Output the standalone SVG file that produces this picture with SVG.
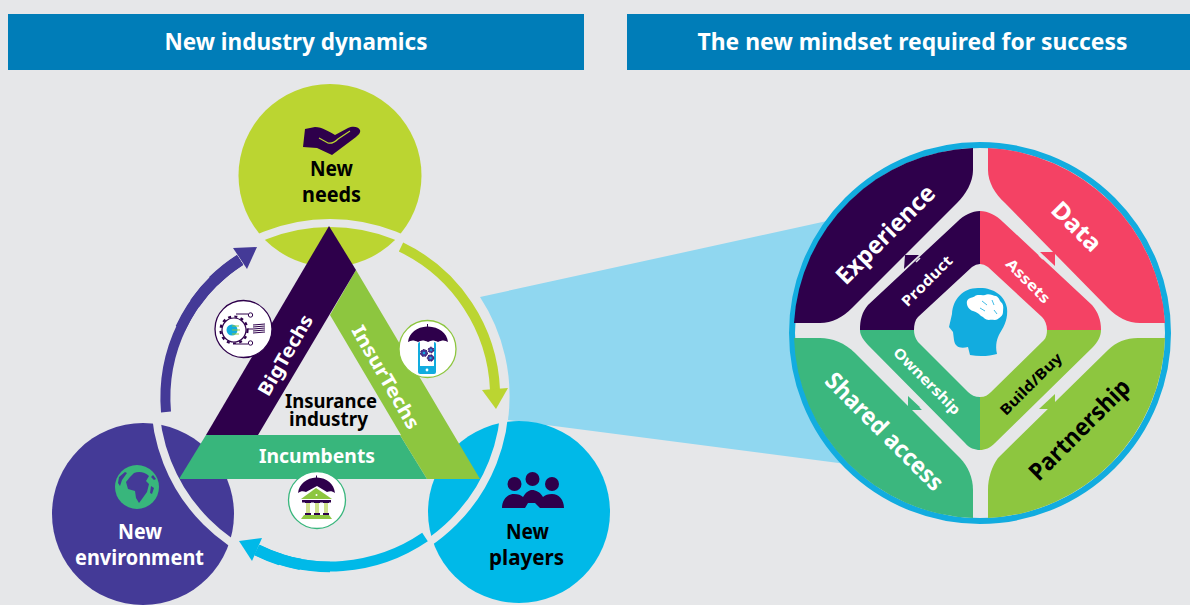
<svg xmlns="http://www.w3.org/2000/svg" width="1190" height="605" viewBox="0 0 1190 605">
<style>
text{font-family:"Noto Sans","Open Sans","Liberation Sans",sans-serif;font-weight:700;text-anchor:middle}
.w{fill:#fff}.k{fill:#000}
.hd{fill:#fff;font-size:23px}.lb{font-size:21px}.ind{font-size:20px}.band{font-size:19px;fill:#fff}
.big{font-size:24px}.sm{font-size:14.500px}
.cut{stroke:#E6E7E9;stroke-width:1.600;fill:none}
.dk{fill:#2E004B}
.ic{fill:#fff;stroke-width:1.3}
.arc{fill:none;stroke-width:10}
</style>
<rect width="1190" height="605" fill="#E6E7E9"/>
<g id="header-left"><rect x="8" y="14" width="576" height="56" fill="#007DB8"/><text class="hd" x="296" y="50" textLength="263" lengthAdjust="spacingAndGlyphs">New industry dynamics</text></g>
<g id="header-right"><rect x="627" y="14" width="563" height="56" fill="#007DB8"/><text class="hd" x="912.500" y="50" textLength="430" lengthAdjust="spacingAndGlyphs">The new mindset required for success</text></g>
<path id="zoom-wedge" d="M480 297L900 205V471L508 420A181 181 0 0 0 480 297Z" fill="#90D7F0"/>

<g id="node-new-needs">
<circle cx="330" cy="175.500" r="91.500" fill="#BBD531"/>
<path class="dk" d="M305 129L315 127C322 127 330 132 335 135L348 128C352 126 358 126 360 130C361 133 358 135 356 137L332 155L317 148L303 147Z"/>
<path d="M319 138L328 143C332 144 335 142 338 139L350 131" fill="none" stroke="#BBD531" stroke-width="1.200"/>
<text class="lb k" x="331.500" y="176" textLength="43" lengthAdjust="spacingAndGlyphs">New</text>
<text class="lb k" x="331.500" y="202" textLength="59" lengthAdjust="spacingAndGlyphs">needs</text>
</g>
<g id="node-new-environment">
<circle cx="143" cy="514" r="91" fill="#443A97"/>
<circle cx="137" cy="487" r="22" fill="#38B67C"/>
<path fill="#443A97" d="M134 473C139 471 145 472 149 476L146 481L149 484L147 492L142 499L139 503L136 498L135 491L128 489L126 482L130 477Z"/>
<path fill="#443A97" d="M119 477L125 472L127 473L122 480L120 486L118 483ZM151 486L154 488L152 494L150 493ZM153 475L156 479L154 480L151 477Z"/>
<text class="lb w" x="140" y="539" textLength="44" lengthAdjust="spacingAndGlyphs">New</text>
<text class="lb w" x="139.500" y="565" textLength="129" lengthAdjust="spacingAndGlyphs">environment</text>
</g>
<g id="node-new-players">
<circle cx="519" cy="512" r="91" fill="#00B9E8"/>
<circle class="dk" cx="514.500" cy="484" r="7"/><circle class="dk" cx="532.500" cy="479" r="7"/><circle class="dk" cx="552" cy="484" r="7"/>
<path class="dk" d="M502 508C502 500 507 494 514 494C518 494 521 495 523 497C526 492 529 490 532 490C536 490 540 492 543 497C545 495 548 494 552 494C559 494 564 500 564 508H540L535 503H528L525 508Z"/>
<text class="lb k" x="527.500" y="539" textLength="43" lengthAdjust="spacingAndGlyphs">New</text>
<text class="lb k" x="526.500" y="565" textLength="75" lengthAdjust="spacingAndGlyphs">players</text>
</g>

<circle id="ring-gap" cx="330" cy="398" r="175" fill="none" stroke="#E6E7E9" stroke-width="8"/>

<g id="connectors">
<g fill="none" stroke="#443A97">
<path class="arc" d="M166 412A165 165 0 0 1 240 260"/>
<path stroke-width="10.600" d="M180.500 328.300A165 165 0 0 1 240 260"/>
<path stroke-width="11.300" d="M194.800 303.400A165 165 0 0 1 240 260"/>
<path stroke-width="12" d="M213.300 281.300A165 165 0 0 1 240 260"/>
</g>
<polygon fill="#443A97" points="233,248 257,247 247,269"/>
<path class="arc" stroke="#BBD531" d="M401 247A166 166 0 0 1 495 390"/>
<polygon fill="#BBD531" points="482,390 508,388 496,409"/>
<g fill="none" stroke="#00B9E8">
<path class="arc" d="M425 537A169 169 0 0 1 257 550"/>
<path stroke-width="10.600" d="M330 567A169 169 0 0 1 257 550"/>
<path stroke-width="11.300" d="M300.600 564.400A169 169 0 0 1 257 550"/>
<path stroke-width="12" d="M280.600 559.600A169 169 0 0 1 257 550"/>
</g>
<polygon fill="#00B9E8" points="239,541 262,538 252,561"/>
</g>

<g id="band-insurtechs"><polygon fill="#8DC63F" points="356,270 480,479 427,479 330,315"/></g>
<g id="band-incumbents"><polygon fill="#38B67C" points="206,435 400,435 427,479 179,479"/><text class="band" x="317" y="463" textLength="116" lengthAdjust="spacingAndGlyphs">Incumbents</text></g>
<polygon fill="#8DC63F" points="400,435 427,479 402,435"/>
<text class="band" transform="translate(386 377) rotate(60)" dy="7" textLength="116" lengthAdjust="spacingAndGlyphs">InsurTechs</text>
<g id="band-bigtechs"><polygon class="dk" points="329,226 356,270 258,435 206,435"/><text class="band" transform="translate(285 355) rotate(-60)" dy="7" textLength="90" lengthAdjust="spacingAndGlyphs">BigTechs</text></g>
<g id="label-insurance-industry"><text class="ind k" x="331" y="408" textLength="92" lengthAdjust="spacingAndGlyphs">Insurance</text><text class="ind k" x="328.500" y="426" textLength="79" lengthAdjust="spacingAndGlyphs">industry</text></g>

<g id="icon-bigtechs">
<circle class="ic" stroke="#2E004B" cx="243.500" cy="329" r="28.500"/>
<circle cx="234" cy="330" r="12" fill="none" stroke="#2E004B" stroke-width="1.200"/>
<circle cx="234" cy="330" r="13.500" fill="none" stroke="#2E004B" stroke-width="2.200" stroke-dasharray="3 3.360"/>
<circle cx="232" cy="330" r="5.500" fill="#12ACDF"/>
<path d="M232 326H239M232 330H240M232 334H239" stroke="#8DC63F" stroke-width="1.200"/>
<circle cx="250.500" cy="315" r="2.200" fill="#fff" stroke="#2E004B"/><circle cx="250.500" cy="343" r="2.200" fill="#fff" stroke="#2E004B"/>
<path d="M236 314H248M236 344H248M248 329H253" stroke="#2E004B" fill="none"/>
<path d="M253 325L265 324M253 327L265 326M253 329L265 328M253 331L265 330M253 333L265 332" stroke="#2E004B" stroke-width="1"/>
</g>
<g id="icon-insurtechs">
<circle class="ic" stroke="#8DC63F" cx="427.500" cy="349" r="28.500"/>
<rect x="418" y="342" width="18" height="32" rx="2" fill="#12ACDF"/>
<rect x="420" y="342" width="14" height="24" fill="#fff"/>
<circle cx="427" cy="370" r="1.400" fill="#fff"/>
<circle cx="424" cy="353" r="3.500" fill="#443A97" stroke="#2E004B" stroke-dasharray="1.500 1.500"/><circle cx="424" cy="353" r="1.300" fill="#12ACDF"/>
<circle cx="431" cy="350" r="2.800" fill="#443A97" stroke="#2E004B" stroke-dasharray="1.500 1.500"/><circle cx="431" cy="350" r="1" fill="#12ACDF"/>
<circle cx="430.500" cy="358" r="3.200" fill="#443A97" stroke="#2E004B" stroke-dasharray="1.500 1.500"/><circle cx="430.500" cy="358" r="1.200" fill="#12ACDF"/>
<path class="dk" d="M408 342C409 333 417 327 427 326.500V324H428V326.500C439 327 447 333 448 342C445 340 442 340 438 342C434 340 431 340 428 342C424 340 421 340 418 342C414 340 411 340 408 342Z"/>
</g>
<g id="icon-incumbents">
<circle class="ic" stroke="#38B67C" cx="317" cy="500" r="28.500"/>
<path class="dk" d="M298 493C299 484 307 478 316 477.500V475.500H317V477.500C327 478 334 484 335 493C332 491 330 491 327 492L317 486L306 492C303 491 301 491 298 493Z"/>
<polygon fill="#8DC63F" points="316,488 332,499 301,499"/>
<circle cx="316.500" cy="495" r="1" fill="#fff"/>
<rect x="302" y="500" width="29" height="2.500" fill="#2E004B"/>
<path d="M308 502V514M317 502V514M326 502V514" stroke="#CFE08A" stroke-width="4"/>
<path d="M305 502H311M314 502H320M323 502H329M305 514H311M314 514H320M323 514H329" stroke="#2E004B" stroke-width="2"/>
<polygon fill="#8DC63F" points="304,515 329,515 332,519 301,519"/>
</g>

<g id="mindset-circle"><circle cx="980" cy="333" r="188" fill="#E6E7E9" stroke="#12ACDF" stroke-width="6"/></g>
<g id="quad-experience"><path class="dk" d="M973 148V170C973 182 966 194 957 203L852 308C843 317 832 323 820 323H794A186 186 0 0 1 973 148Z"/><text class="big w" transform="translate(885 234) rotate(-45)" dy="9" textLength="129" lengthAdjust="spacingAndGlyphs">Experience</text></g>
<g id="quad-data"><path fill="#F44264" d="M988 148V170C988 182 995 194 1005 203L1108 308C1117 317 1128 323 1140 323H1165A186 186 0 0 0 988 148Z"/><text class="big w" transform="translate(1077 226) rotate(45)" dy="9" textLength="60" lengthAdjust="spacingAndGlyphs">Data</text></g>
<g id="quad-shared-access"><path fill="#3BB77E" d="M794 338H820C832 338 845 343 855 353L960 458C968 466 973 478 973 490V518A186 186 0 0 1 794 338Z"/><text class="big w" transform="translate(885 431) rotate(45)" dy="9" textLength="156" lengthAdjust="spacingAndGlyphs">Shared access</text></g>
<g id="quad-partnership"><path fill="#8DC63F" d="M1165 338H1138C1126 338 1116 342 1108 350L998 458C992 466 988 478 988 490V518A186 186 0 0 0 1165 338Z"/><text class="big k" transform="translate(1079 429) rotate(-45)" dy="9" textLength="132" lengthAdjust="spacingAndGlyphs">Partnership</text></g>

<g id="inner-product"><path class="dk" d="M980 211C972 211 964 215 957 222L868 305C862 312 860 320 860 330H914C914 325 915 320 918 317L972 267Q976 264 980 264Z"/><polygon class="dk" points="905,255 919,255 904,269"/><path class="cut" d="M920 258L916 262"/><text class="sm w" transform="translate(927 281) rotate(-45)" dy="5" textLength="65" lengthAdjust="spacingAndGlyphs">Product</text></g>
<g id="inner-assets"><path fill="#F44264" d="M980 211C988 211 996 215 1003 222L1092 305C1098 312 1101 320 1101 330H1047C1047 325 1045 320 1042 317L988 267Q984 264 980 264Z"/><polygon fill="#F44264" points="1055,252 1040,252 1055,266"/><path class="cut" d="M1039 255L1043 259"/><text class="sm w" transform="translate(1028 281) rotate(45)" dy="5" textLength="56" lengthAdjust="spacingAndGlyphs">Assets</text></g>
<g id="inner-ownership"><path fill="#3BB77E" d="M860 330C860 336 864 340 868 345L965 443C969 448 975 450 980 450V397C975 397 971 395 968 392L918 342C915 338 914 334 914 330Z"/><polygon fill="#3BB77E" points="908,410 908,396 923,410"/><path class="cut" d="M920 407L924 411"/><text class="sm w" transform="translate(927 381) rotate(45)" dy="5" textLength="88" lengthAdjust="spacingAndGlyphs">Ownership</text></g>
<g id="inner-buildbuy"><path fill="#8DC63F" d="M1101 330C1101 336 1098 342 1092 348L995 443C990 448 985 450 980 450V397C985 397 988 395 991 392L1044 340C1046 338 1047 334 1047 330Z"/><polygon fill="#8DC63F" points="1055,409 1055,394 1039,409"/><path class="cut" d="M1052 392L1048 396"/><text class="sm k" transform="translate(1031 384) rotate(-45)" dy="5" textLength="81" lengthAdjust="spacingAndGlyphs">Build/Buy</text></g>

<g id="head-icon">
<path fill="#12ACDF" d="M997 354C995 345 997 338 1000 333C1005 325 1008 318 1007 308C1005 295 992 287 978 288C963 288 953 299 952 314L949 327L953 332L954 340C955 347 960 349 968 347L970 355C980 357 990 356 997 354Z"/>
<path fill="#fff" d="M967 301C969 297 973 298 975 296C978 294 982 296 985 295C989 293 993 296 996 296C1000 298 999 301 1002 303C1004 306 1003 309 1003 312C1003 316 1000 317 998 319C995 321 992 319 989 320C985 320 984 317 981 316C978 313 976 312 973 311C969 310 966 305 967 301Z"/>
<path d="M982 301L987 305M992 300L994 305M980 308L985 311M994 310L997 314" stroke="#12ACDF" stroke-width=".8" fill="none"/>
</g>
</svg>
